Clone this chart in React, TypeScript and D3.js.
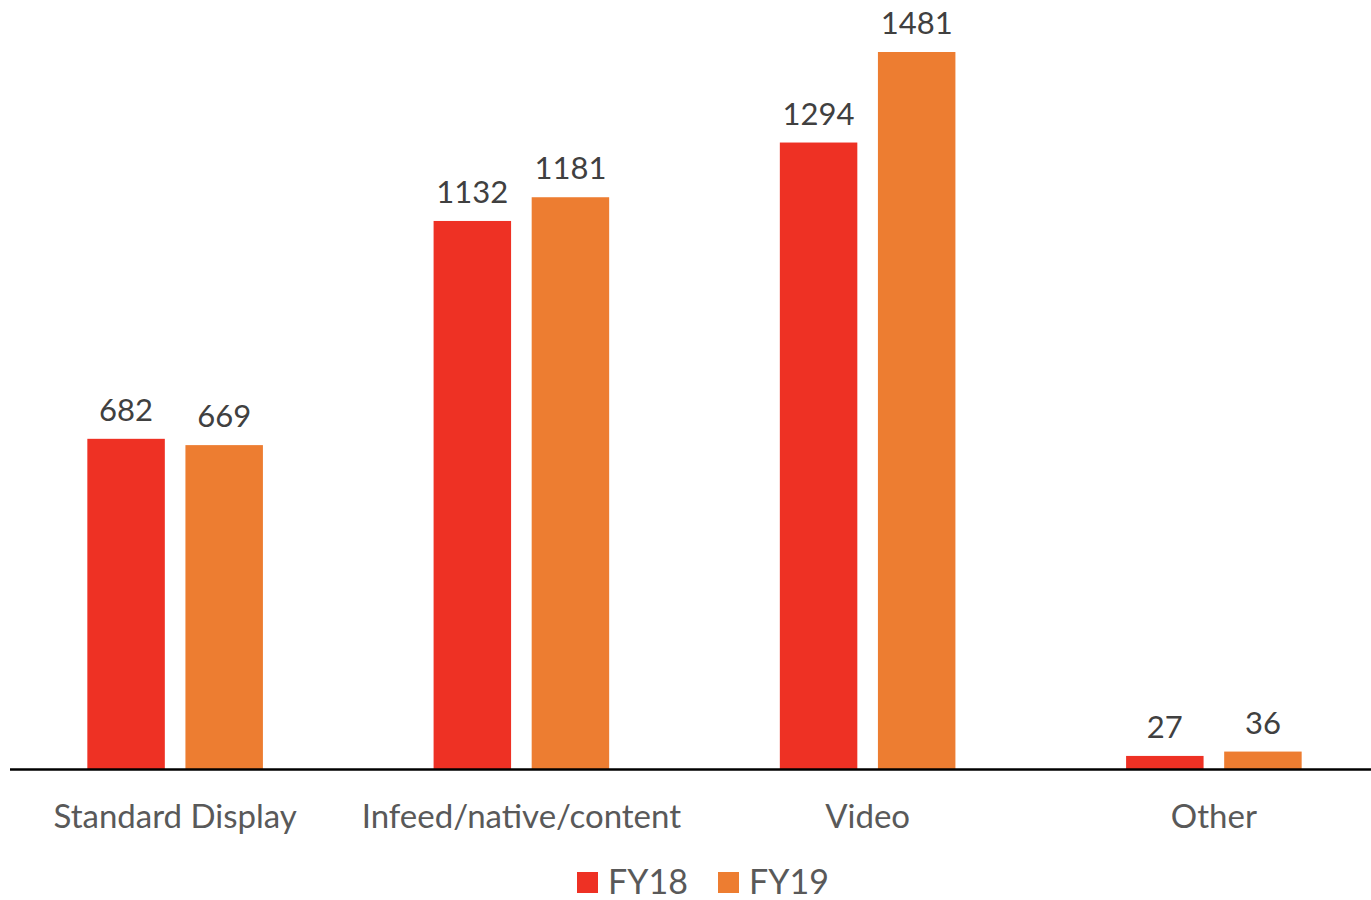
import React, { useEffect, useRef } from "react";
import * as d3 from "d3";

const categories = ["Standard Display", "Infeed/native/content", "Video", "Other"];
const seriesNames = ["FY18", "FY19"];
const fy18 = [682, 1132, 1294, 27];
const fy19 = [669, 1181, 1481, 36];
const colors = ["#EE3124", "#ED7D31"];

const W = 1371;
const H = 900;
const FONT = "Lato, 'Open Sans', sans-serif";

export default function App() {
  const ref = useRef<SVGSVGElement>(null);

  useEffect(() => {
    const svg = d3.select(ref.current);
    svg.selectAll("*").remove();

    const baseline = 769;
    const x = d3.scaleBand<string>().domain(categories).range([2, 1387]).paddingInner(0).paddingOuter(0);
    const inner = d3.scaleBand<string>().domain(seriesNames).range([0, x.bandwidth()]).paddingInner(0.21).paddingOuter(0.87);
    const y = d3.scaleLinear().domain([0, 1481]).range([baseline, 52]);

    const rows = categories.map((c, i) => ({ cat: c, vals: [fy18[i], fy19[i]] }));

    const g = svg.append("g");
    const groups = g.selectAll("g.cat").data(rows).join("g").attr("transform", (d) => `translate(${x(d.cat)},0)`);

    groups
      .selectAll("rect")
      .data((d) => d.vals.map((v, j) => ({ key: seriesNames[j], v, j })))
      .join("rect")
      .attr("x", (d) => inner(d.key)!)
      .attr("width", inner.bandwidth())
      .attr("y", (d) => y(d.v))
      .attr("height", (d) => baseline - y(d.v))
      .attr("fill", (d) => colors[d.j]);

    groups
      .selectAll("text.val")
      .data((d) => d.vals.map((v, j) => ({ key: seriesNames[j], v, j })))
      .join("text")
      .attr("class", "val")
      .attr("x", (d) => inner(d.key)! + inner.bandwidth() / 2)
      .attr("y", (d) => y(d.v) - 18)
      .attr("text-anchor", "middle")
      .attr("font-family", FONT)
      .attr("font-size", 31)
      .attr("fill", "#404040")
      .text((d) => String(d.v));

    // category axis line
    g.append("line")
      .attr("x1", 10)
      .attr("x2", W)
      .attr("y1", baseline + 0.5)
      .attr("y2", baseline + 0.5)
      .attr("stroke", "#000")
      .attr("stroke-width", 2.5);

    groups
      .append("text")
      .attr("x", x.bandwidth() / 2)
      .attr("y", 828)
      .attr("text-anchor", "middle")
      .attr("font-family", FONT)
      .attr("font-size", 33)
      .attr("fill", "#595959")
      .text((d) => d.cat);

    // legend
    const legend = g.append("g");
    const legendX = [577, 718];
    seriesNames.forEach((s, j) => {
      legend
        .append("rect")
        .attr("x", legendX[j])
        .attr("y", 872)
        .attr("width", 21)
        .attr("height", 21)
        .attr("fill", colors[j]);
      legend
        .append("text")
        .attr("x", legendX[j] + 31)
        .attr("y", 894)
        .attr("font-family", FONT)
        .attr("font-size", 34)
        .attr("fill", "#595959")
        .text(s);
    });
  }, []);

  return (
    <svg
      ref={ref}
      width={W}
      height={H}
      style={{ position: "absolute", left: 0, top: 0, background: "#fff" }}
    />
  );
}
